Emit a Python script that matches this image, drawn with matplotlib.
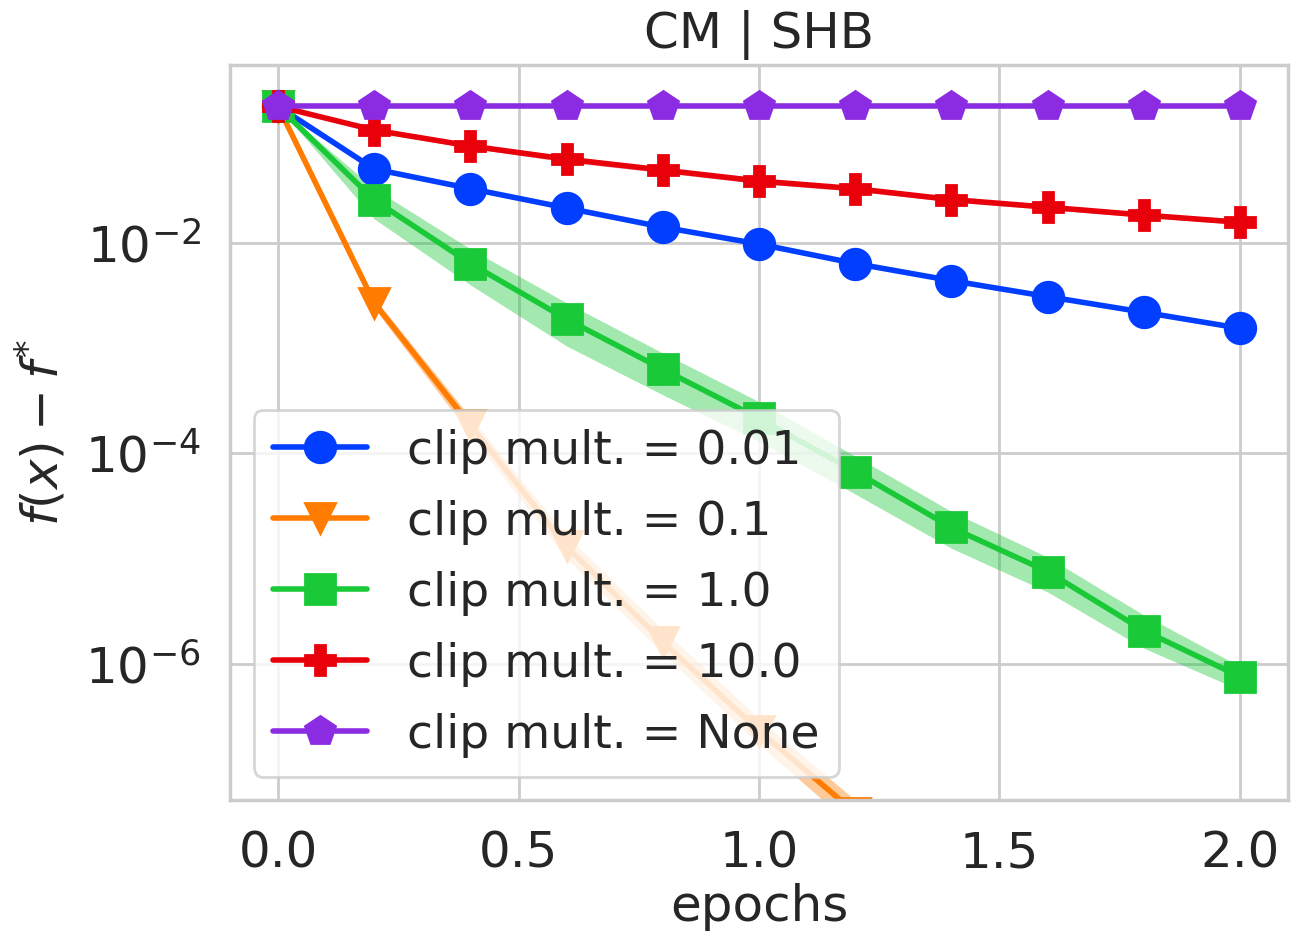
import matplotlib
matplotlib.use('Agg')
import matplotlib.pyplot as plt
import numpy as np
import seaborn as sns

sns.set_style('whitegrid')
plt.rcParams['font.family'] = ['DejaVu Sans']

# epochs and mean suboptimality per clipping multiplier
epochs = [0.0, 0.2, 0.4, 0.6, 0.8, 1.0, 1.2, 1.4, 1.6, 1.8, 2.0]

clip_001 = [0.2, 0.0507, 0.033, 0.0216, 0.0142, 0.0098, 0.0064, 0.0044, 0.0031, 0.0022, 0.00155]

epochs_01 = [0.0, 0.2, 0.4, 0.6, 0.8, 1.0, 1.2]
clip_01 = [0.2, 2.7e-3, 1.85e-4, 1.3e-5, 1.6e-6, 2.3e-7, 3.8e-8]
clip_01_lo = [0.2, 2.4e-3, 1.5e-4, 1.0e-5, 1.25e-6, 1.7e-7, 2.7e-8]
clip_01_hi = [0.2, 3.0e-3, 2.2e-4, 1.65e-5, 2.1e-6, 3.0e-7, 5.0e-8]

clip_1 = [0.2, 0.0257, 0.0064, 0.00189, 6.3e-4, 2.15e-4, 6.7e-5, 1.97e-5, 7.5e-6, 2.06e-6, 7.5e-7]
clip_1_lo = [0.2, 0.017, 0.0040, 0.00105, 3.6e-4, 1.3e-4, 4.1e-5, 1.25e-5, 4.8e-6, 1.4e-6, 5.6e-7]
clip_1_hi = [0.2, 0.033, 0.0088, 0.0027, 9.0e-4, 3.1e-4, 9.4e-5, 2.8e-5, 1.03e-5, 2.9e-6, 9.4e-7]

clip_10 = [0.2, 0.119, 0.084, 0.063, 0.0496, 0.039, 0.033, 0.026, 0.022, 0.0185, 0.0158]
clip_10_lo = [0.2, 0.114, 0.080, 0.059, 0.0468, 0.0368, 0.0312, 0.0247, 0.0209, 0.0176, 0.0151]
clip_10_hi = [0.2, 0.124, 0.088, 0.067, 0.0524, 0.0412, 0.0348, 0.0273, 0.0231, 0.0194, 0.0165]

clip_none = [0.2] * 11

colors = sns.color_palette('bright')
fs = 18
lw = 2.0
ms = 11

fig = plt.figure(figsize=(6.535, 4.68), dpi=200)
ax = fig.add_axes([0.176, 0.145, 0.8095, 0.786])

ax.plot(epochs, clip_001, color=colors[0], marker='o', lw=lw, ms=ms, label='clip mult. = 0.01')

ax.fill_between(epochs_01, clip_01_lo, clip_01_hi, color=colors[1], alpha=0.4, lw=0)
ax.plot(epochs_01, clip_01, color=colors[1], marker='v', lw=lw, ms=ms, label='clip mult. = 0.1')

ax.fill_between(epochs, clip_1_lo, clip_1_hi, color=colors[2], alpha=0.4, lw=0)
ax.plot(epochs, clip_1, color=colors[2], marker='s', lw=lw, ms=ms, label='clip mult. = 1.0')

ax.fill_between(epochs, clip_10_lo, clip_10_hi, color=colors[3], alpha=0.4, lw=0)
ax.plot(epochs, clip_10, color=colors[3], marker='P', lw=lw, ms=ms, label='clip mult. = 10.0')

ax.plot(epochs, clip_none, color=colors[4], marker='p', lw=lw, ms=ms, label='clip mult. = None')

ax.set_yscale('log')
ax.set_ylim(5e-8, 0.5)
ax.set_xlim(-0.1, 2.1)
ax.set_yticks([1e-2, 1e-4, 1e-6])
ax.minorticks_off()
ax.set_xticks([0.0, 0.5, 1.0, 1.5, 2.0])
ax.tick_params(labelsize=fs, colors='#262626', pad=7)

for spine in ax.spines.values():
    spine.set_color('#cccccc')
    spine.set_linewidth(1.25)
ax.grid(True, color='#cccccc', lw=1.0)

ax.set_title('CM | SHB', fontsize=fs, color='#262626', pad=6)
ax.set_xlabel('epochs', fontsize=fs, color='#262626', labelpad=2)
ax.set_ylabel('$f(x) - f^{*}$', fontsize=fs, color='#262626', labelpad=6)

ax.legend(loc='lower left', fontsize=17, framealpha=0.8, labelspacing=0.55,
          handletextpad=0.85)

fig.savefig('out.png', dpi=200)
